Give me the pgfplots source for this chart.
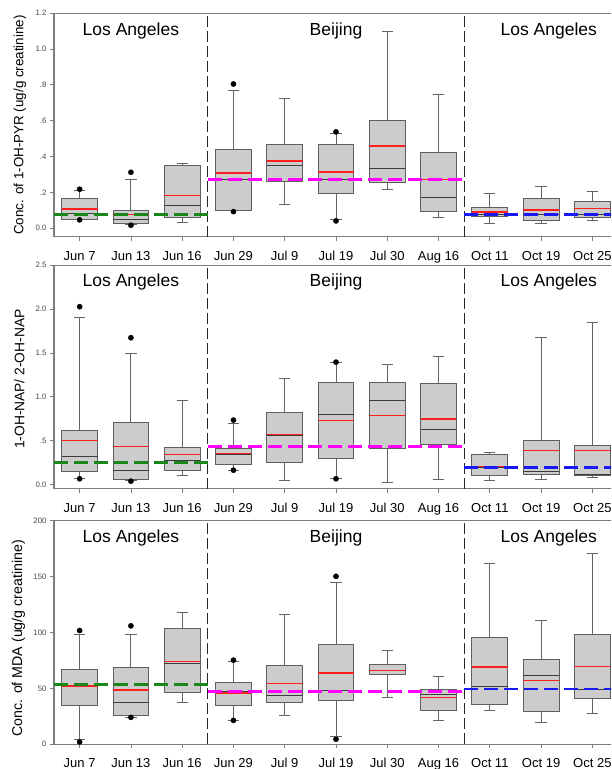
\documentclass[border=0pt]{standalone}
\usepackage{pgfplots}
\usepackage{pgfplotstable}
\pgfplotsset{compat=1.18}
\usepgfplotslibrary{statistics}
\usepackage{fontspec}
\setmainfont{Liberation Sans}
\definecolor{boxfill}{RGB}{204,204,204}
\definecolor{boxedge}{RGB}{95,95,95}
\definecolor{whiskgray}{RGB}{100,100,100}
\definecolor{meddark}{RGB}{60,60,60}
\definecolor{axisgray}{RGB}{125,125,125}
\definecolor{tickgray}{RGB}{70,70,70}
\definecolor{meanred}{RGB}{255,30,30}
\definecolor{dgreen}{RGB}{25,135,25}
\definecolor{dmag}{RGB}{255,0,255}
\definecolor{dblue}{RGB}{25,25,240}

\makeatletter
\pgfplotsset{
  boxplot prepared from table/.code={%
    \def\tikz@plot@handler{\pgfplotsplothandlerboxplotprepared}%
    \pgfplotsset{/pgfplots/boxplot prepared from table/.cd, #1}%
  },
  /pgfplots/boxplot prepared from table/.cd,
    table/.code={\pgfplotstablecopy{#1}\to\boxplot@datatable},
    row/.initial=0,
    make style readable from table/.style={
      #1/.code={%
        \pgfplotstablegetelem{\pgfkeysvalueof{/pgfplots/boxplot prepared from table/row}}{##1}\of\boxplot@datatable
        \pgfplotsset{boxplot/#1/.expand once={\pgfplotsretval}}%
      }
    },
    make style readable from table=lower whisker,
    make style readable from table=upper whisker,
    make style readable from table=lower quartile,
    make style readable from table=upper quartile,
    make style readable from table=median
}
\makeatother

% panel 1: 1-OH-PYR
\pgfplotstableread{
lw lq med uq uw avg
0.050 0.050 0.082 0.166 0.212 0.108
0.022 0.026 0.048 0.099 0.270 0.078
0.030 0.060 0.126 0.348 0.359 0.184
0.102 0.102 0.275 0.439 0.768 0.309
0.134 0.260 0.350 0.465 0.725 0.376
0.047 0.195 0.270 0.465 0.530 0.314
0.218 0.255 0.335 0.599 1.097 0.459
0.061 0.093 0.173 0.424 0.744 0.273
0.028 0.065 0.078 0.117 0.195 0.091
0.028 0.043 0.075 0.166 0.236 0.102
0.046 0.060 0.078 0.151 0.205 0.110
}\tA
% panel 2: 1-OH-NAP / 2-OH-NAP
\pgfplotstableread{
lw lq med uq uw avg
0.065 0.145 0.323 0.616 1.900 0.498
0.049 0.057 0.163 0.707 1.490 0.430
0.099 0.160 0.277 0.418 0.958 0.342
0.163 0.232 0.340 0.407 0.700 0.353
0.049 0.251 0.555 0.821 1.209 0.567
0.068 0.293 0.798 1.163 1.388 0.730
0.019 0.407 0.958 1.167 1.369 0.787
0.057 0.456 0.624 1.152 1.460 0.745
0.046 0.099 0.190 0.342 0.365 0.205
0.057 0.110 0.148 0.506 1.677 0.388
0.076 0.103 0.118 0.445 1.844 0.384
}\tB
% panel 3: MDA
\pgfplotstableread{
lw lq med uq uw avg
4.2 34.5 51.5 67.3 98.5 52.1
24.4 26.2 37.5 68.8 98.2 48.5
37.5 46.4 72.3 103.9 117.9 74.1
21.7 34.9 47.0 55.1 73.8 45.8
25.9 37.5 43.5 70.8 116.0 54.2
7.4 39.0 48.2 89.0 144.6 63.7
41.7 62.3 65.8 71.2 84.2 65.8
21.7 30.1 44.7 49.2 60.7 41.7
30.7 35.4 51.5 95.8 161.9 69.3
19.6 29.5 61.3 75.9 110.7 56.8
28.0 41.4 49.4 98.2 170.8 69.6
}\tC

\tikzset{loc/.style={font=\fontsize{17.5}{20}\selectfont}}
\pgfplotsset{
  panel/.style={
    scale only axis, width=564pt, height=223.5pt,
    xmin=0.5, xmax=11.5,
    xtick={1,...,11},
    xticklabels={Jun 7,Jun 13,Jun 16,Jun 29,Jul 9,Jul 19,Jul 30,Aug 16,Oct 11,Oct 19,Oct 25},
    xtick pos=left, ytick pos=left,
    tick align=outside, major tick length=4pt,
    axis line style={draw=axisgray, line width=1.1pt},
    every tick/.style={draw=axisgray, line width=0.8pt},
    xticklabel style={font=\fontsize{13}{15}\selectfont, text=black,
      text height=9.5pt, text depth=3pt, yshift=-6.3pt},
    yticklabel style={font=\fontsize{7.8}{9}\selectfont, text=tickgray},
    every axis y label/.style={rotate=90, anchor=center},
    /pgf/number format/assume math mode=true,
    boxplot/draw direction=y,
    boxplot/box extend=0.7,
    boxplot/whisker extend=0.22,
    boxplot/every box/.style={draw=boxedge, fill=boxfill, line width=0.9pt},
    boxplot/every whisker/.style={draw=whiskgray, line width=0.9pt},
    boxplot/every median/.style={draw=meddark, line width=0.9pt},
  },
  meanbars/.style={draw=none, mark=none, forget plot,
    error bars/.cd, x dir=both, x fixed=0.35, error mark=none,
    error bar style={draw=meanred, line width=1.3pt, solid}},
  outl/.style={only marks, mark=*, mark size=2.6pt, black, forget plot},
}

\begin{document}
\begin{tikzpicture}
\path[use as bounding box] (0,0) rectangle (611pt,-769pt);
\clip (0,0) rectangle (611pt,-769pt);

% ---------------- panel 1
\begin{axis}[panel, at={(54pt,-236.7pt)}, anchor=south west,
  ymin=-0.047, ymax=1.2,
  ytick={0,0.2,0.4,0.6,0.8,1.0,1.2},
  yticklabels={0.0,.2,.4,.6,.8,1.0,1.2},
  ylabel={Conc. of 1-OH-PYR (ug/g creatinine)},
  every axis y label/.append style={at={(axis description cs:-0.0603,0.5)}, font=\fontsize{13.4}{15}\selectfont}]
\pgfplotsinvokeforeach{0,...,10}{
  \addplot[boxplot prepared from table={table=\tA, row=#1,
    lower whisker=lw, upper whisker=uw, lower quartile=lq,
    upper quartile=uq, median=med}, boxplot prepared,
    boxplot/draw position={#1+1}] coordinates {};
}
\addplot[meanbars] table[x expr=\coordindex+1, y=avg] {\tA};
\addplot[outl] coordinates {(1,0.218) (1,0.047) (2,0.3125) (2,0.017) (4,0.805) (4,0.093) (6,0.538) (6,0.041)};
\addplot[black!85, line width=1pt, dash pattern=on 11pt off 4pt] coordinates {(3.5,-0.047) (3.5,1.2)};
\addplot[black!85, line width=1pt, dash pattern=on 11pt off 4pt] coordinates {(8.5,-0.047) (8.5,1.2)};
\addplot[dgreen, line width=2.8pt, dash pattern=on 14pt off 6pt] coordinates {(0.5,0.075) (3.5,0.075)};
\addplot[dmag, line width=2.8pt, dash pattern=on 14pt off 6pt] coordinates {(3.5,0.272) (8.5,0.272)};
\addplot[dblue, line width=2.8pt, dash pattern=on 14pt off 6pt] coordinates {(8.5,0.076) (11.5,0.076)};
\node[loc] at (axis cs:2,1.101) {Los Angeles};
\node[loc] at (axis cs:6,1.101) {Beijing};
\node[loc] at (axis cs:10.15,1.101) {Los Angeles};
\end{axis}

% ---------------- panel 2
\begin{axis}[panel, at={(54pt,-488.7pt)}, anchor=south west,
  ymin=-0.048, ymax=2.5,
  ytick={0,0.5,1.0,1.5,2.0,2.5},
  yticklabels={0.0,.5,1.0,1.5,2.0,2.5},
  ylabel={1-OH-NAP/ 2-OH-NAP},
  every axis y label/.append style={at={(axis description cs:-0.0612,0.49)}, font=\fontsize{13.8}{15}\selectfont}]
\pgfplotsinvokeforeach{0,...,10}{
  \addplot[boxplot prepared from table={table=\tB, row=#1,
    lower whisker=lw, upper whisker=uw, lower quartile=lq,
    upper quartile=uq, median=med}, boxplot prepared,
    boxplot/draw position={#1+1}] coordinates {};
}
\addplot[meanbars] table[x expr=\coordindex+1, y=avg] {\tB};
\addplot[outl] coordinates {(1,2.027) (1,0.065) (2,1.673) (2,0.038) (4,0.734) (4,0.163) (6,1.395) (6,0.065)};
\addplot[black!85, line width=1pt, dash pattern=on 11pt off 4pt] coordinates {(3.5,-0.048) (3.5,2.5)};
\addplot[black!85, line width=1pt, dash pattern=on 11pt off 4pt] coordinates {(8.5,-0.048) (8.5,2.5)};
\addplot[dgreen, line width=2.8pt, dash pattern=on 14pt off 6pt] coordinates {(0.5,0.254) (3.5,0.254)};
\addplot[dmag, line width=2.8pt, dash pattern=on 14pt off 6pt] coordinates {(3.5,0.436) (8.5,0.436)};
\addplot[dblue, line width=2.8pt, dash pattern=on 14pt off 6pt] coordinates {(8.5,0.19) (11.5,0.19)};
\node[loc] at (axis cs:2,2.306) {Los Angeles};
\node[loc] at (axis cs:6,2.306) {Beijing};
\node[loc] at (axis cs:10.15,2.306) {Los Angeles};
\end{axis}

% ---------------- panel 3
\begin{axis}[panel, at={(54pt,-744.3pt)}, anchor=south west,
  ymin=0, ymax=200,
  ytick={0,50,100,150,200},
  yticklabels={0,50,100,150,200},
  ylabel={Conc. of MDA (ug/g creatinine)},
  every axis y label/.append style={at={(axis description cs:-0.063,0.475)}, font=\fontsize{14.2}{16}\selectfont}]
\pgfplotsinvokeforeach{0,...,10}{
  \addplot[boxplot prepared from table={table=\tC, row=#1,
    lower whisker=lw, upper whisker=uw, lower quartile=lq,
    upper quartile=uq, median=med}, boxplot prepared,
    boxplot/draw position={#1+1}] coordinates {};
}
\addplot[meanbars] table[x expr=\coordindex+1, y=avg] {\tC};
\addplot[outl] coordinates {(1,101.8) (1,2.1) (2,106) (2,24.1) (4,75.3) (4,21.4) (6,150.3) (6,4.5)};
\addplot[black!85, line width=1pt, dash pattern=on 11pt off 4pt] coordinates {(3.5,0) (3.5,200)};
\addplot[black!85, line width=1pt, dash pattern=on 11pt off 4pt] coordinates {(8.5,0) (8.5,200)};
\addplot[dgreen, line width=2.8pt, dash pattern=on 14pt off 6pt] coordinates {(0.5,53.3) (3.5,53.3)};
\addplot[dmag, line width=2.8pt, dash pattern=on 14pt off 6pt] coordinates {(3.5,47.4) (8.5,47.4)};
\addplot[dblue, line width=2.8pt, dash pattern=on 14pt off 6pt] coordinates {(8.5,49.5) (11.5,49.5)};
\node[loc] at (axis cs:2,184.3) {Los Angeles};
\node[loc] at (axis cs:6,184.3) {Beijing};
\node[loc] at (axis cs:10.15,184.3) {Los Angeles};
\end{axis}
\end{tikzpicture}
\end{document}
